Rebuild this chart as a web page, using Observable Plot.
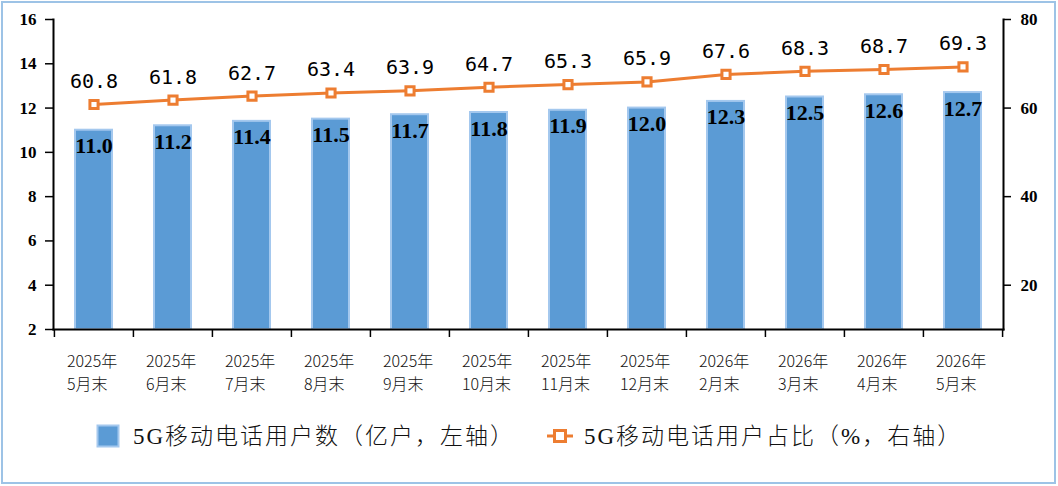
<!DOCTYPE html>
<html>
<head>
<meta charset="utf-8">
<script src="https://cdn.jsdelivr.net/npm/d3@7"></script>
<script src="https://cdn.jsdelivr.net/npm/@observablehq/plot@0.6"></script>
<style>
  html, body { margin: 0; padding: 0; background: #fff; }
  #wrap { position: relative; width: 1058px; height: 486px; overflow: hidden; }
  #border { position: absolute; left: 1px; top: 1px; width: 1055px; height: 483px; box-sizing: border-box; border: 2px solid #9dc3e6; pointer-events: none; }
  #chart { position: absolute; left: 0; top: 0; }
  .legend { position: absolute; top: 422px; font-family: "Liberation Serif", "Noto Sans CJK SC", serif; font-weight: 300; font-size: 23px; color: #111; line-height: 30px; white-space: nowrap; }
  .legend span { letter-spacing: 2px; }
</style>
</head>
<body>
<div id="wrap">
  <div id="chart"></div>
  <div class="legend" style="left:96px;">
    <svg width="24" height="24" style="vertical-align:-4px;margin-right:13px"><rect x="1.5" y="1.5" width="21" height="21" fill="#5b9bd5" stroke="#a4c8ee" stroke-width="2"/></svg><span id="leg1"></span>
  </div>
  <div class="legend" style="left:546px;">
    <svg width="28" height="24" style="vertical-align:-4px;margin-right:10px"><line x1="1" x2="27" y1="12" y2="12" stroke="#ed7d31" stroke-width="3"/><rect x="8.5" y="6.5" width="11" height="11" fill="#fff" stroke="#ed7d31" stroke-width="3"/></svg><span id="leg2"></span>
  </div>
  <div id="border"></div>
</div>
<script>
const categories = ["2025年\n5月末","2025年\n6月末","2025年\n7月末","2025年\n8月末","2025年\n9月末","2025年\n10月末","2025年\n11月末","2025年\n12月末","2026年\n2月末","2026年\n3月末","2026年\n4月末","2026年\n5月末"];
const users = [11.0, 11.2, 11.4, 11.5, 11.7, 11.8, 11.9, 12.0, 12.3, 12.5, 12.6, 12.7];
const share = [60.8, 61.8, 62.7, 63.4, 63.9, 64.7, 65.3, 65.9, 67.6, 68.3, 68.7, 69.3];
const leftTicks = [2, 4, 6, 8, 10, 12, 14, 16];
const rightTicks = [20, 40, 60, 80];
const seriesNames = ["5G移动电话用户数（亿户，左轴）", "5G移动电话用户占比（%，右轴）"];
const ratio = 5; // right axis = left axis * 5

document.getElementById("leg1").textContent = seriesNames[0];
document.getElementById("leg2").textContent = seriesNames[1];

const data = categories.map((c, i) => ({cat: c, users: users[i], share: share[i]}));

const W = 1058, H = 400, mL = 53, mR = 55, mT = 19, mB = 71;
const bw = (W - mL - mR) / categories.length;
const orange = "#ed7d31";
const serif = "Liberation Serif, serif";

const chart = Plot.plot({
  width: W, height: H,
  marginLeft: mL, marginRight: mR, marginTop: mT, marginBottom: mB,
  style: {fontFamily: serif, color: "#000", background: "transparent"},
  x: {type: "band", domain: categories, padding: 0},
  y: {domain: [2, 16]},
  marks: [
    Plot.barY(data, {x: "cat", y1: 2, y2: "users", fill: "#5b9bd5", stroke: "#a4c8ee", strokeWidth: 2, insetLeft: 21, insetRight: 21}),
    Plot.line(data, {x: "cat", y: d => d.share / ratio, stroke: orange, strokeWidth: 3}),
    Plot.dot(data, {x: "cat", y: d => d.share / ratio, symbol: "square", r: 4.6, fill: "#fff", stroke: orange, strokeWidth: 3}),
    Plot.text(data, {x: "cat", y: "users", text: d => d.users.toFixed(1), dy: 16, fontSize: 22, fontWeight: "bold", fontFamily: serif, fill: "#000"}),
    Plot.text(data, {x: "cat", y: d => d.share / ratio, text: d => d.share.toFixed(1), dy: -23, fontSize: 20, fontFamily: "DejaVu Sans Mono, monospace", fill: "#000"}),
    Plot.frame({anchor: "left", stroke: "#000", strokeWidth: 2}),
    Plot.frame({anchor: "right", stroke: "#000", strokeWidth: 2}),
    Plot.frame({anchor: "bottom", stroke: "#000", strokeWidth: 2}),
    Plot.axisY({anchor: "left", ticks: leftTicks, tickSize: 8, tickFormat: () => "", strokeWidth: 1.5, label: null}),
    Plot.text(leftTicks, {y: d => d, text: d => String(d), frameAnchor: "left", textAnchor: "end", dx: -17, fontSize: 17, fontWeight: "bold", fontFamily: serif, fill: "#000"}),
    Plot.axisY({anchor: "right", ticks: rightTicks.map(v => v / ratio), tickSize: 7, tickFormat: () => "", strokeWidth: 1.5, label: null}),
    Plot.text(rightTicks, {y: d => d / ratio, text: d => String(d), frameAnchor: "right", textAnchor: "start", dx: 17, fontSize: 17, fontWeight: "bold", fontFamily: serif, fill: "#000"}),
    Plot.axisX({anchor: "bottom", ticks: categories, tickSize: 8, dx: -bw / 2, tickFormat: () => "", strokeWidth: 1.5, label: null}),
    Plot.axisX({anchor: "bottom", ticks: categories.slice(-1), tickSize: 8, dx: bw / 2, tickFormat: () => "", strokeWidth: 1.5, label: null}),
    Plot.axisX({anchor: "bottom", ticks: categories, tickSize: 0, tickPadding: 21, textAnchor: "start", dx: -27, lineHeight: 1.45, fontSize: 16, fontWeight: 300, fontFamily: "Noto Sans CJK SC, sans-serif", fill: "#111", label: null})
  ]
});
document.getElementById("chart").appendChild(chart);
</script>
</body>
</html>
